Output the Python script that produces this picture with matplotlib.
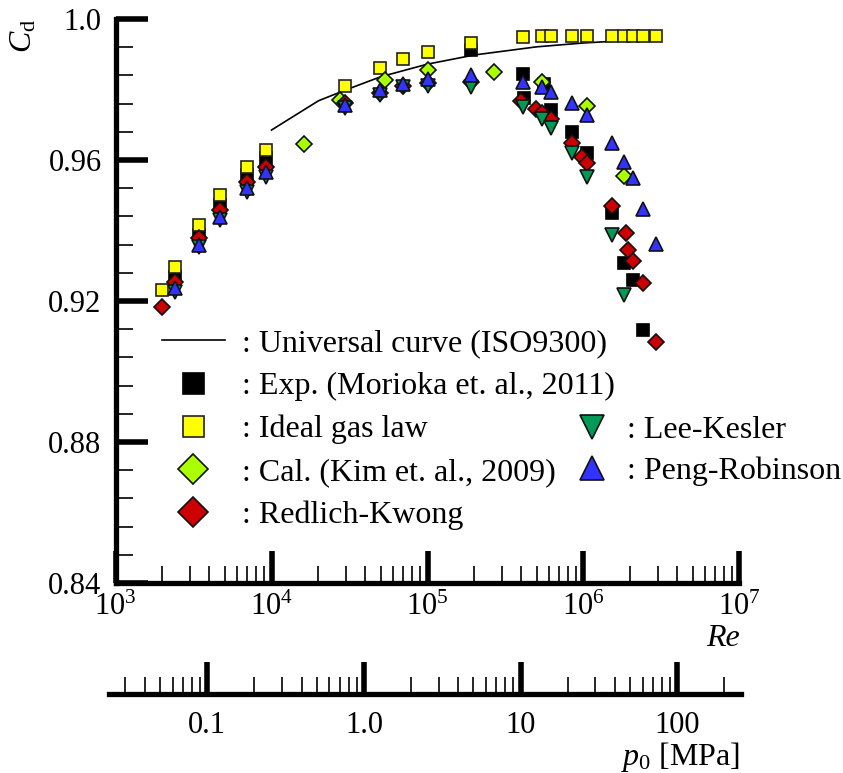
import matplotlib
matplotlib.use('Agg')
import matplotlib.pyplot as plt
from matplotlib.ticker import FixedLocator, FixedFormatter, LogLocator, NullFormatter, MultipleLocator

plt.rcParams['font.family'] = ['Liberation Serif', 'DejaVu Serif']
plt.rcParams['mathtext.fontset'] = 'custom'
plt.rcParams['mathtext.rm'] = 'Liberation Serif'
plt.rcParams['mathtext.it'] = 'Liberation Serif:italic'
plt.rcParams['mathtext.bf'] = 'Liberation Serif:bold'

# ---------------- data ----------------
iso_re = [1e4, 2e4, 3e4, 5e4, 1e5, 2e5, 5e5, 1e6, 2.5e6]
iso_cd = [0.9685, 0.9768, 0.9799, 0.9836, 0.9872, 0.9898, 0.9921, 0.9932, 0.9942]

exp_re = [2405, 3428, 4677, 6934, 9180, 190100, 411000, 418000, 555000, 616400,
          848000, 1048000, 1531000, 1828000, 2085000, 2416000]
exp_cd = [0.9269, 0.9387, 0.9472, 0.9557, 0.9606, 0.9912, 0.9844, 0.9775, 0.9815, 0.9742,
          0.9680, 0.9621, 0.9450, 0.9307, 0.9260, 0.9118]

ideal_re = [1977, 2405, 3428, 4677, 6934, 9180, 29570, 49650, 69980, 100200, 190100,
            411000, 540000, 616400, 848000, 1048000, 1531000, 1828000, 2085000, 2416000, 2903000]
ideal_cd = [0.9231, 0.9297, 0.9416, 0.9501, 0.9581, 0.9628, 0.9811, 0.9860, 0.9886, 0.9907, 0.9933,
            0.9950, 0.9951, 0.9951, 0.9952, 0.9952, 0.9952, 0.9952, 0.9952, 0.9952, 0.9952]

kim_re = [16220, 27480, 53460, 100200, 268000, 540000, 1057000, 1828000]
kim_cd = [0.9645, 0.9770, 0.9827, 0.9855, 0.9849, 0.9822, 0.9753, 0.9555]

rk_re = [1977, 2405, 3428, 4677, 6934, 9180, 29570, 49650, 69980, 100200, 190100,
         395000, 496500, 540000, 616400, 848000, 972000, 1057000, 1531000, 1866000,
         1920000, 2085000, 2416000, 2903000]
rk_cd = [0.9184, 0.9255, 0.9378, 0.9458, 0.9538, 0.9581, 0.9762, 0.9790, 0.9811, 0.9818, 0.9820,
         0.9767, 0.9744, 0.9734, 0.9716, 0.9649, 0.9608, 0.9591, 0.9470, 0.9394,
         0.9345, 0.9314, 0.9250, 0.9085]

lk_re = [2405, 3428, 4677, 6934, 9180, 29570, 49650, 69980, 100200, 190100,
         411000, 540000, 616400, 848000, 1048000, 1531000, 1828000]
lk_cd = [0.9226, 0.9354, 0.9430, 0.9510, 0.9553, 0.9748, 0.9784, 0.9806, 0.9810, 0.9806,
         0.9751, 0.9715, 0.9690, 0.9619, 0.9553, 0.9387, 0.9217]

pr_re = [2405, 3428, 4677, 6934, 9180, 29570, 49650, 69980, 100200, 190100,
         411000, 540000, 616400, 848000, 1048000, 1531000, 1828000, 2085000, 2416000, 2903000]
pr_cd = [0.9236, 0.9359, 0.9439, 0.9520, 0.9567, 0.9756, 0.9799, 0.9816, 0.9829, 0.9841,
         0.9822, 0.9806, 0.9794, 0.9761, 0.9728, 0.9647, 0.9595, 0.9548, 0.9460, 0.9362]

y_ticks = [0.84, 0.88, 0.92, 0.96, 1.0]
y_ticklabels = ['0.84', '0.88', '0.92', '0.96', '1.0']
p_ticks = [0.1, 1.0, 10, 100]
p_ticklabels = ['0.1', '1.0', '10', '100']

labels = [': Universal curve (ISO9300)', ': Exp. (Morioka et. al., 2011)', ': Ideal gas law',
          ': Cal. (Kim et. al., 2009)', ': Redlich-Kwong', ': Lee-Kesler', ': Peng-Robinson']

# ---------------- figure ----------------
W, H = 843, 773
FS = 22      # tick labels
LFS = 23     # legend / axis labels
fig = plt.figure(figsize=(W / 100, H / 100), dpi=100)
ax = fig.add_axes([115.5 / W, 1 - 583 / H, 624 / W, 564 / H])
ax.set_xscale('log')
ax.set_xlim(1e3, 1e7)
ax.set_ylim(0.84, 1.0)

ew = 1.2
h_iso, = ax.plot(iso_re, iso_cd, color='black', lw=1.2, zorder=2, label=labels[0])
h_exp, = ax.plot(exp_re, exp_cd, ls='none', marker='s', ms=8.4, mfc='black', mec='black',
                 mew=ew, zorder=3, label=labels[1])
h_ideal, = ax.plot(ideal_re, ideal_cd, ls='none', marker='s', ms=8.4, mfc='#ffff00', mec='#222222',
                   mew=ew, zorder=4, label=labels[2])
h_kim, = ax.plot(kim_re, kim_cd, ls='none', marker='D', ms=8.4, mfc='#aaff00', mec='#111111',
                 mew=ew, zorder=4, label=labels[3])
h_rk, = ax.plot(rk_re, rk_cd, ls='none', marker='D', ms=8.4, mfc='#cc0000', mec='#111111',
                mew=ew, zorder=5, label=labels[4])
h_lk, = ax.plot(lk_re, lk_cd, ls='none', marker='v', ms=9.8, mfc='#009955', mec='#111111',
                mew=ew, zorder=6, label=labels[5])
h_pr, = ax.plot(pr_re, pr_cd, ls='none', marker='^', ms=9.8, mfc='#3333ff', mec='#111111',
                mew=ew, zorder=7, label=labels[6])

for s in ['top', 'right']:
    ax.spines[s].set_visible(False)
for s in ['left', 'bottom']:
    ax.spines[s].set_linewidth(3.8)
    ax.spines[s].set_capstyle('projecting')

ax.yaxis.set_major_locator(FixedLocator(y_ticks))
ax.yaxis.set_major_formatter(FixedFormatter(y_ticklabels))
ax.yaxis.set_minor_locator(MultipleLocator(0.008))
ax.xaxis.set_major_locator(LogLocator(base=10, numticks=10))
ax.xaxis.set_minor_locator(LogLocator(base=10, subs=range(2, 10), numticks=20))
ax.xaxis.set_minor_formatter(NullFormatter())

ax.tick_params(which='major', direction='in', length=23, width=4, labelsize=FS)
ax.tick_params(which='minor', direction='in', length=12.5, width=1.2)
ax.tick_params(axis='y', which='major', pad=10)
ax.tick_params(axis='x', which='major', pad=7)

ax.set_xlabel('Re', fontsize=LFS, style='italic', loc='right')
ax.xaxis.set_label_coords(1.0, -0.072)
ax.set_ylabel(r'$C_{\mathrm{d}}$', fontsize=LFS, loc='top')
ax.yaxis.set_label_coords(-0.124, 1.0)

# legends
leg1 = ax.legend(handles=[h_iso, h_exp, h_ideal, h_kim, h_rk], labels=labels[:5],
                 loc='upper left', bbox_to_anchor=(162 / W, 1 - 329 / H),
                 bbox_transform=fig.transFigure, frameon=False, fontsize=LFS,
                 handlelength=1.97, handletextpad=0.53, labelspacing=0.42,
                 borderpad=0, borderaxespad=0, markerscale=1.8, numpoints=1)
ax.add_artist(leg1)
leg2 = ax.legend(handles=[h_lk, h_pr], labels=labels[5:],
                 loc='upper left', bbox_to_anchor=(560.5 / W, 1 - 416 / H),
                 bbox_transform=fig.transFigure, frameon=False, fontsize=LFS,
                 handlelength=1.97, handletextpad=0.11, labelspacing=0.35,
                 borderpad=0, borderaxespad=0, markerscale=1.8, numpoints=1)

# secondary pressure axis
ax2 = fig.add_axes([109 / W, 1 - 694 / H, (740.7 - 109) / W, 0.0005])
ax2.set_xscale('log')
ax2.set_xlim(0.02358, 253.9)
ax2.patch.set_visible(False)
for s in ['top', 'right', 'left']:
    ax2.spines[s].set_visible(False)
ax2.spines['bottom'].set_linewidth(3.8)
ax2.spines['bottom'].set_capstyle('projecting')
ax2.set_yticks([])
ax2.xaxis.set_major_locator(FixedLocator(p_ticks))
ax2.xaxis.set_major_formatter(FixedFormatter(p_ticklabels))
ax2.xaxis.set_minor_locator(LogLocator(base=10, subs=range(2, 10), numticks=20))
ax2.xaxis.set_minor_formatter(NullFormatter())
ax2.tick_params(which='major', direction='in', length=23, width=4, labelsize=FS, pad=12)
ax2.tick_params(which='minor', direction='in', length=12.5, width=1.2)
ax2.set_xlabel(r'$p_0$ [MPa]', fontsize=LFS, loc='right')
ax2.xaxis.set_label_coords(740 / W, 1 - 740 / H, transform=fig.transFigure)

fig.savefig('out.png', dpi=100)
